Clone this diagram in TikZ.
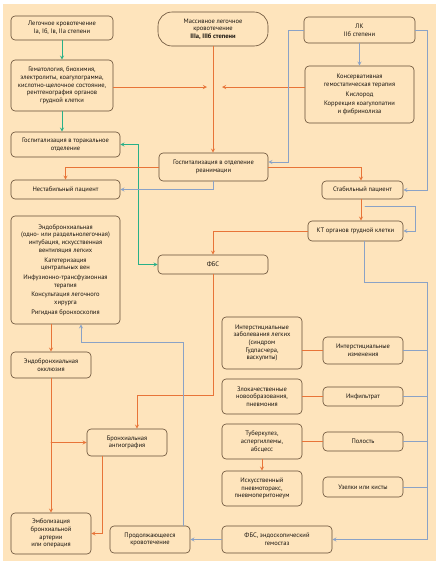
\documentclass[tikz,border=0pt]{standalone}
\usepackage{fontspec}
\setmainfont{PT Sans}
\usepackage{tikz}

\definecolor{peach}{RGB}{254,228,188}
\definecolor{frame}{RGB}{100,76,52}
\definecolor{orng}{RGB}{232,116,56}
\definecolor{grbl}{RGB}{138,162,198}
\definecolor{grn}{RGB}{40,176,136}
\definecolor{txt}{RGB}{25,20,15}

\begin{document}
\begin{tikzpicture}[>=stealth,x=1pt,y=-1pt,line cap=round,
			box/.style={draw=frame,line width=0.6pt,rounded corners=4pt,align=center,inner sep=1pt,
				text=txt,font=\fontsize{6.5}{7.7}\selectfont},
			oa/.style={orng,line width=0.85pt},
			ba/.style={grbl,line width=0.85pt},
			ga/.style={grn,line width=0.85pt}]
			\useasboundingbox (0,0) rectangle (441,565);
			\fill[peach] (3,4) rectangle (436,561);
			%\draw[help lines] (0,0) grid[step=20] (441,565);
			
			% left column
			\node[box,minimum width=102,minimum height=24] (lk1) at (62,28)
			{Легочное кровотечение\\Iа, Iб, Iв, IIа степени};
			\node[box,minimum width=102,minimum height=51] (hem) at (62,85.5)
			{Гематология, биохимия,\\электролиты, коагулограмма,\\кислотно-щелочное состояние,\\рентгенография органов\\грудной клетки};
			\node[box,minimum width=109,minimum height=25] (thor) at (65.5,144.5)
			{Госпитализация в торакальное\\отделение};
			\node[box,minimum width=109,minimum height=19] (unst) at (65.5,189.5)
			{Нестабильный пациент};
			\node[box,minimum width=109,minimum height=108] (endo) at (65.5,270)
			{Эндобронхиальная\\(одно- или раздельнолегочная)\\интубация, искусственная\\вентиляция легких\\[2pt]Катетеризация\\центральных вен\\[2pt]Инфузионно-трансфузионная\\терапия\\[2pt]Консультация легочного\\хирурга\\[2pt]Ригидная бронхоскопия};
			\node[box,minimum width=80,minimum height=26] (occl) at (51,365)
			{Эндобронхиальная\\окклюзия};
			\node[box,minimum width=80,minimum height=41] (emb) at (51,533.5)
			{Эмболизация\\бронхиальной\\артерии\\или операция};
			\node[box,minimum width=80,minimum height=27] (angio) at (127,442.5)
			{Бронхиальная\\ангиография};
			\node[box,minimum width=80,minimum height=27] (cont) at (150,539.5)
			{Продолжающееся\\кровотечение};
			
			% middle column
			\node[box,rounded corners=14pt,minimum width=110,minimum height=34] (mass) at (213,29)
			{Массивное легочное\\кровотечение\\\textbf{IIIа, IIIб степени}};
			\node[box,minimum width=109,minimum height=28] (reanim) at (213.5,167)
			{Госпитализация в отделение\\реанимации};
			\node[box,minimum width=110,minimum height=19] (fbs) at (213,264.5) {ФБС};
			\node[box,minimum width=80,minimum height=52] (inter) at (262,343)
			{Интерстициальные\\заболевания легких\\(синдром\\Гудпасчера,\\васкулиты)};
			\node[box,minimum width=80,minimum height=35] (malig) at (262,396.5)
			{Злокачественные\\новообразования,\\пневмония};
			\node[box,minimum width=80,minimum height=35] (tub) at (262,441.5)
			{Туберкулез,\\аспергиллемы,\\абсцесс};
			\node[box,minimum width=80,minimum height=35] (pneu) at (262,488.5)
			{Искусственный\\пневмоторакс,\\пневмоперитонеум};
			\node[box,minimum width=110,minimum height=27] (fbsg) at (277,539.5)
			{ФБС, эндоскопический\\гемостаз};
			
			% right column
			\node[box,minimum width=111,minimum height=26] (lk2) at (359.5,30)
			{ЛК\\IIб степени};
			\node[box,minimum width=109,minimum height=57] (cons) at (359.5,94.5)
			{Консервативная\\гемостатическая терапия\\[2pt]Кислород\\[2pt]Коррекция коагулопатии\\и фибринолиза};
			\node[box,minimum width=81,minimum height=18] (stab) at (362.5,190)
			{Стабильный пациент};
			\node[box,minimum width=95,minimum height=20] (ct) at (355.5,231)
			{КТ органов грудной клетки};
			\node[box,minimum width=80,minimum height=27] (interch) at (363,350.5)
			{Интерстициальные\\изменения};
			\node[box,minimum width=80,minimum height=19] (infil) at (363,396.5) {Инфильтрат};
			\node[box,minimum width=80,minimum height=19] (cav) at (363,441.5) {Полость};
			\node[box,minimum width=80,minimum height=20] (nod) at (363,487) {Узелки или кисты};
			
			\coordinate (jn) at (213,87);
			\coordinate (bus) at (427,282);
			
			% green
			\draw[ga,->] (lk1) -- (hem);
			\draw[ga,->] (hem.south) -- (hem.south |- thor.north);
			\draw[ga,<->] (thor.east) -- ++(18,0) |- (fbs.west);
			
			% orange
			\draw[oa,->] (hem.east |- jn) -- ([xshift=-6pt]jn);
			\draw[oa,->] (cons.west |- jn) -- ([xshift=9pt]jn);
			\draw[oa,->] (mass.south) -- (mass.south |- reanim.north);
			\draw[oa,->] (reanim.west) -| (unst.north);
			\draw[oa,->] (reanim.east) -| ([xshift=-1.5pt]stab.north);
			\draw[oa,->] ([xshift=-1.5pt]stab.south) -- ([xshift=-1.5pt]stab.south |- ct.north);
			\draw[oa,->] (ct.west) -| (fbs.north);
			\draw[oa,->] (fbs.south) -- ++(0,121) -| ([xshift=10pt]angio.north);
			\draw[oa,->] ([xshift=-14.5pt]endo.south) -- (occl.north);
			\draw[oa,->] (occl) -- (emb);
			\draw[oa,->] (occl.south |- angio.west) -- (angio.west);
			\draw[oa,->] ([xshift=-25pt]angio.south) |- (emb.east);
			\foreach \a/\b in {inter/interch,malig/infil,tub/cav}
			\draw[oa] (\b.west -| \a.east) -- (\b.west);
			\draw[oa,->] (tub) -- (pneu);
			
			% blue
			\draw[ba,->] (lk2) -- (cons);
			\draw[ba,->] (lk2.west) -| ([xshift=20pt,yshift=5pt]reanim.east) -- ([yshift=5pt]reanim.east);
			\draw[ba,->] (lk2.east) -| ([xshift=24pt]stab.east) -- (stab.east);
			\draw[ba,->] (reanim.south) |- (unst.east);
			\draw[ba,->] ([xshift=2.5pt,yshift=-7pt]stab.south) -| ([xshift=12pt]ct.east) -- (ct.east);
			\draw[ba,->] ([xshift=8.5pt]ct.south) |- (bus) |- (fbsg.east);
			\foreach \n in {interch,infil,cav,nod}
			\draw[ba] (\n.east) -- (\n.east -| bus);
			\draw[ba,->] (fbsg) -- (cont);
			\draw[ba,->] ([xshift=33pt]cont.north) |- ([xshift=15.5pt,yshift=-18pt]endo.south) -- ([xshift=15.5pt]endo.south);
		\end{tikzpicture}
\end{document}
